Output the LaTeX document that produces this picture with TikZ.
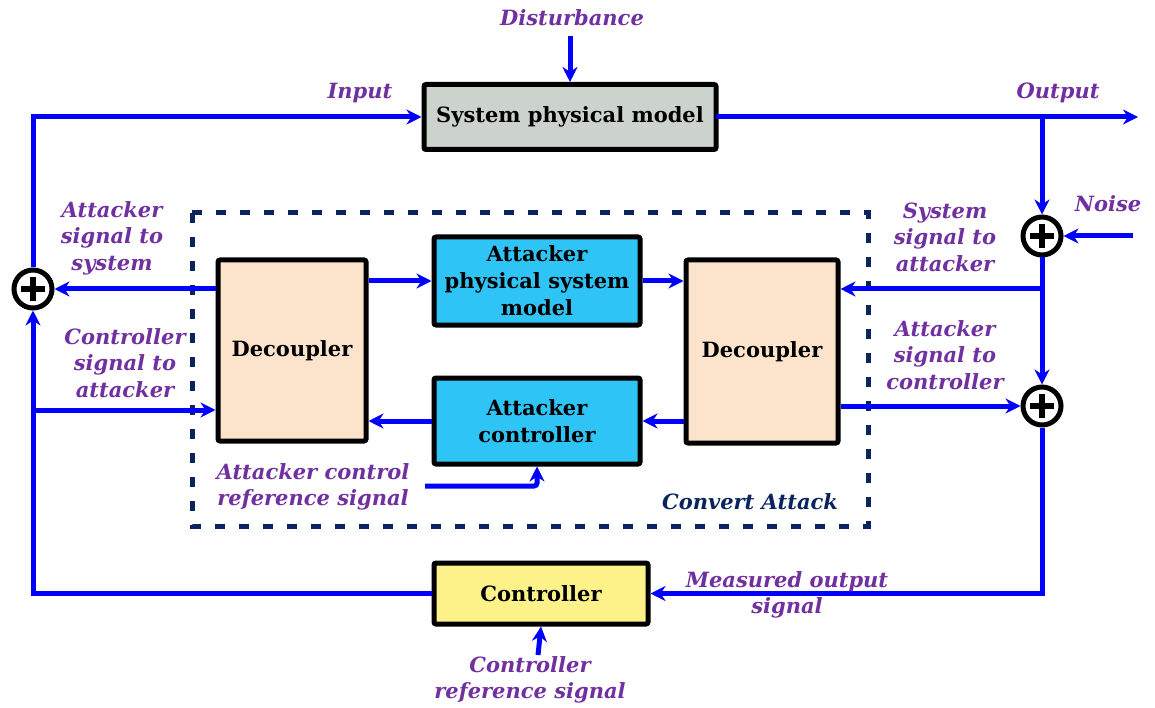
\documentclass[tikz,border=0pt]{standalone}
\usepackage{fontspec}
\setmainfont{DejaVu Serif}
\usetikzlibrary{arrows.meta}
\definecolor{sigblue}{RGB}{0,0,255}
\definecolor{lblpurple}{RGB}{112,48,160}
\definecolor{navy}{RGB}{10,36,96}
\definecolor{plantgray}{RGB}{203,211,204}
\definecolor{peach}{RGB}{252,228,204}
\definecolor{cyanbox}{RGB}{46,196,245}
\definecolor{ctrlyellow}{RGB}{253,242,138}
\tikzset{
  blockbox/.style={draw=black, line width=5pt, rounded corners=2pt, align=center,
    font=\fontsize{21}{27}\selectfont\bfseries, inner sep=0pt},
  sumnode/.style={circle, draw=black, line width=5pt, fill=white, minimum size=38pt, inner sep=0pt},
  sig/.style={draw=sigblue, line width=5pt, -{Stealth[length=15pt,width=15pt]}},
  lbl/.style={text=lblpurple, font=\fontsize{21}{26.5}\selectfont\bfseries\itshape, align=center},
}
\newcommand{\plusmark}[1]{%
  \draw[line width=5.5pt] ([xshift=-12pt]#1.center) -- ([xshift=12pt]#1.center);
  \draw[line width=5.5pt] ([yshift=-12pt]#1.center) -- ([yshift=12pt]#1.center);}
\begin{document}
\begin{tikzpicture}[x=1pt,y=-1pt]
\useasboundingbox (0,0) rectangle (1155,708);

% dashed frame of the covert part
\draw[navy, line width=5pt, dash pattern=on 10pt off 14pt] (192,213) rectangle (868,526);

% blocks
\node[blockbox, fill=plantgray, minimum width=292pt, minimum height=65pt] (plant) at (570,117) {System physical model};
\node[blockbox, fill=peach, minimum width=148pt, minimum height=181pt] (dec1) at (292,350.5) {Decoupler};
\node[blockbox, fill=peach, minimum width=152pt, minimum height=183pt] (dec2) at (762,351.5) {Decoupler};
\node[blockbox, fill=cyanbox, minimum width=206pt, minimum height=88pt] (apsm) at (537,281) {Attacker\\physical system\\model};
\node[blockbox, fill=cyanbox, minimum width=206pt, minimum height=86pt] (actrl) at (537,421) {Attacker\\controller};
\node[blockbox, fill=ctrlyellow, minimum width=214pt, minimum height=61pt] (ctrl) at (541,593.5) {Controller};

% summing junctions
\node[sumnode] (sumL) at (33,289) {};
\node[sumnode] (sumN) at (1042,236) {};
\node[sumnode] (sumM) at (1042,406) {};
\plusmark{sumL}\plusmark{sumN}\plusmark{sumM}

% helper points
\coordinate (dist) at (570,36);
\coordinate (outEnd) at (1138,117);
\coordinate (outTap) at (1042,117);
\coordinate (noiseIn) at (1133,236);
\coordinate (tapS) at (1042,289);
\coordinate (tapC) at (35,410);
\coordinate (refA) at (425,486);
\coordinate (refC) at (538,655);

% plant loop
\draw[sig] (dist) -- (plant.north);
\draw[sig] ([xshift=-3pt]plant.east) -- (outEnd);
\draw[sig] ([yshift=2.5pt]outTap) -- (sumN.north);
\draw[sig] (noiseIn) -- (sumN.east);
\draw[sig] (sumN.south) -- (sumM.north);
\draw[sig] (tapS) -- (dec2.east |- tapS);
\draw[sig] (dec2.east |- sumM) -- (sumM.west);
\draw[sig] (sumM.south) |- (ctrl.east);
\draw[sig] (ctrl.west) -| (sumL.south);
\draw[sig] (sumL.north) |- (plant.west);
\draw[sig] (tapC) -- (dec1.west |- tapC);
\draw[sig] (dec1.west |- sumL) -- (sumL.east);
\draw[sig] (refC) -- (ctrl.south);

% attacker internals
\draw[sig] (dec1.east |- 0,281) -- (apsm.west);
\draw[sig] (apsm.east) -- (dec2.west |- apsm.east);
\draw[sig] (dec2.west |- actrl.east) -- (actrl.east);
\draw[sig] (actrl.west) -- (dec1.east |- actrl.west);
\draw[sig, rounded corners=3pt] (refA) -| (actrl.south);

% labels
\node[lbl] (lDist) at (572,18) {Disturbance};
\node[lbl] (lIn) at (360,93) {Input};
\node[lbl] (lOut) at (1058,93) {Output};
\node[lbl] (lNoise) at (1108,204) {Noise};
\node[lbl] (lAS) at (112,238) {Attacker\\signal to\\system};
\node[lbl] (lCS) at (125,363) {Controller\\signal to\\attacker};
\node[lbl] (lSS) at (945,237) {System\\signal to\\attacker};
\node[lbl] (lAC) at (945,355) {Attacker\\signal to\\controller};
\node[lbl] (lRef) at (313,487) {Attacker control\\reference signal};
\node[lbl] (lMeas) at (787,595) {Measured output\\signal};
\node[lbl] (lCRef) at (530,680) {Controller\\reference signal};
\node[lbl, text=navy] (lCov) at (750,502) {Convert Attack};
\end{tikzpicture}
\end{document}
